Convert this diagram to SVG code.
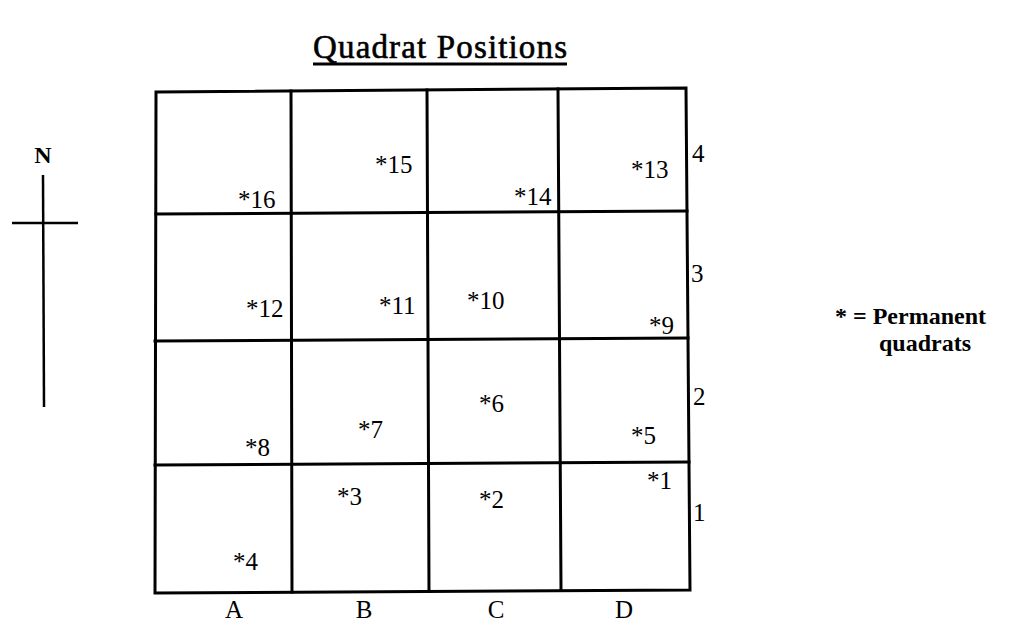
<svg xmlns="http://www.w3.org/2000/svg" width="1009" height="621" viewBox="0 0 1009 621">
<style>
.grid{stroke:#000;stroke-width:3;fill:none;stroke-linecap:square}
.lbl{font-family:"Liberation Serif","Times New Roman",serif;font-size:25px;fill:#000}
.axis{font-family:"Liberation Serif","Times New Roman",serif;font-size:25px;fill:#000}
.leg{font-family:"Liberation Serif","Times New Roman",serif;font-size:24px;font-weight:bold;fill:#000}
</style>
<rect width="1009" height="621" fill="#fff"/>
<g id="title">
<text x="440" y="58" text-anchor="middle" textLength="254" style="font-family:'Liberation Serif','Times New Roman',serif;font-size:33px;fill:#000;stroke:#000;stroke-width:0.6">Quadrat Positions</text>
<line x1="313" y1="64" x2="567" y2="64" stroke="#000" stroke-width="3"/>
</g>
<g id="compass">
<text x="43" y="163" text-anchor="middle" style="font-family:'Liberation Serif','Times New Roman',serif;font-size:24px;font-weight:bold;fill:#000">N</text>
<line x1="43" y1="175" x2="44" y2="407" stroke="#000" stroke-width="2.5"/>
<line x1="12" y1="223" x2="78" y2="223" stroke="#000" stroke-width="2.5"/>
</g>
<g id="grid">
<path class="grid" d="M156,92 L686,88 L690,590 L155,593 Z"/>
<line class="grid" x1="156" y1="214" x2="687" y2="211"/>
<line class="grid" x1="155" y1="341" x2="688" y2="338"/>
<line class="grid" x1="155" y1="465" x2="689" y2="462"/>
<line class="grid" x1="291" y1="91" x2="292" y2="592"/>
<line class="grid" x1="427" y1="90" x2="429" y2="591"/>
<line class="grid" x1="558" y1="89" x2="561" y2="590"/>
</g>
<g id="row-labels">
<text class="axis" x="692" y="162">4</text>
<text class="axis" x="691" y="282">3</text>
<text class="axis" x="693" y="405">2</text>
<text class="axis" x="693" y="521">1</text>
</g>
<g id="col-labels">
<text class="axis" x="234" y="618" text-anchor="middle">A</text>
<text class="axis" x="364" y="618" text-anchor="middle">B</text>
<text class="axis" x="496" y="618" text-anchor="middle">C</text>
<text class="axis" x="624" y="618" text-anchor="middle">D</text>
</g>
<g id="q16"><text class="lbl" x="238" y="208">*16</text></g>
<g id="q15"><text class="lbl" x="375" y="173">*15</text></g>
<g id="q14"><text class="lbl" x="514" y="205">*14</text></g>
<g id="q13"><text class="lbl" x="631" y="178">*13</text></g>
<g id="q12"><text class="lbl" x="246" y="317">*12</text></g>
<g id="q11"><text class="lbl" x="379" y="314">*11</text></g>
<g id="q10"><text class="lbl" x="467" y="309">*10</text></g>
<g id="q9"><text class="lbl" x="649" y="334">*9</text></g>
<g id="q8"><text class="lbl" x="245" y="456">*8</text></g>
<g id="q7"><text class="lbl" x="358" y="438">*7</text></g>
<g id="q6"><text class="lbl" x="479" y="412">*6</text></g>
<g id="q5"><text class="lbl" x="631" y="444">*5</text></g>
<g id="q4"><text class="lbl" x="233" y="570">*4</text></g>
<g id="q3"><text class="lbl" x="337" y="505">*3</text></g>
<g id="q2"><text class="lbl" x="479" y="508">*2</text></g>
<g id="q1"><text class="lbl" x="647" y="489">*1</text></g>
<g id="legend">
<text class="leg" x="835" y="324">* = Permanent</text>
<text class="leg" x="879" y="351">quadrats</text>
</g>
</svg>
